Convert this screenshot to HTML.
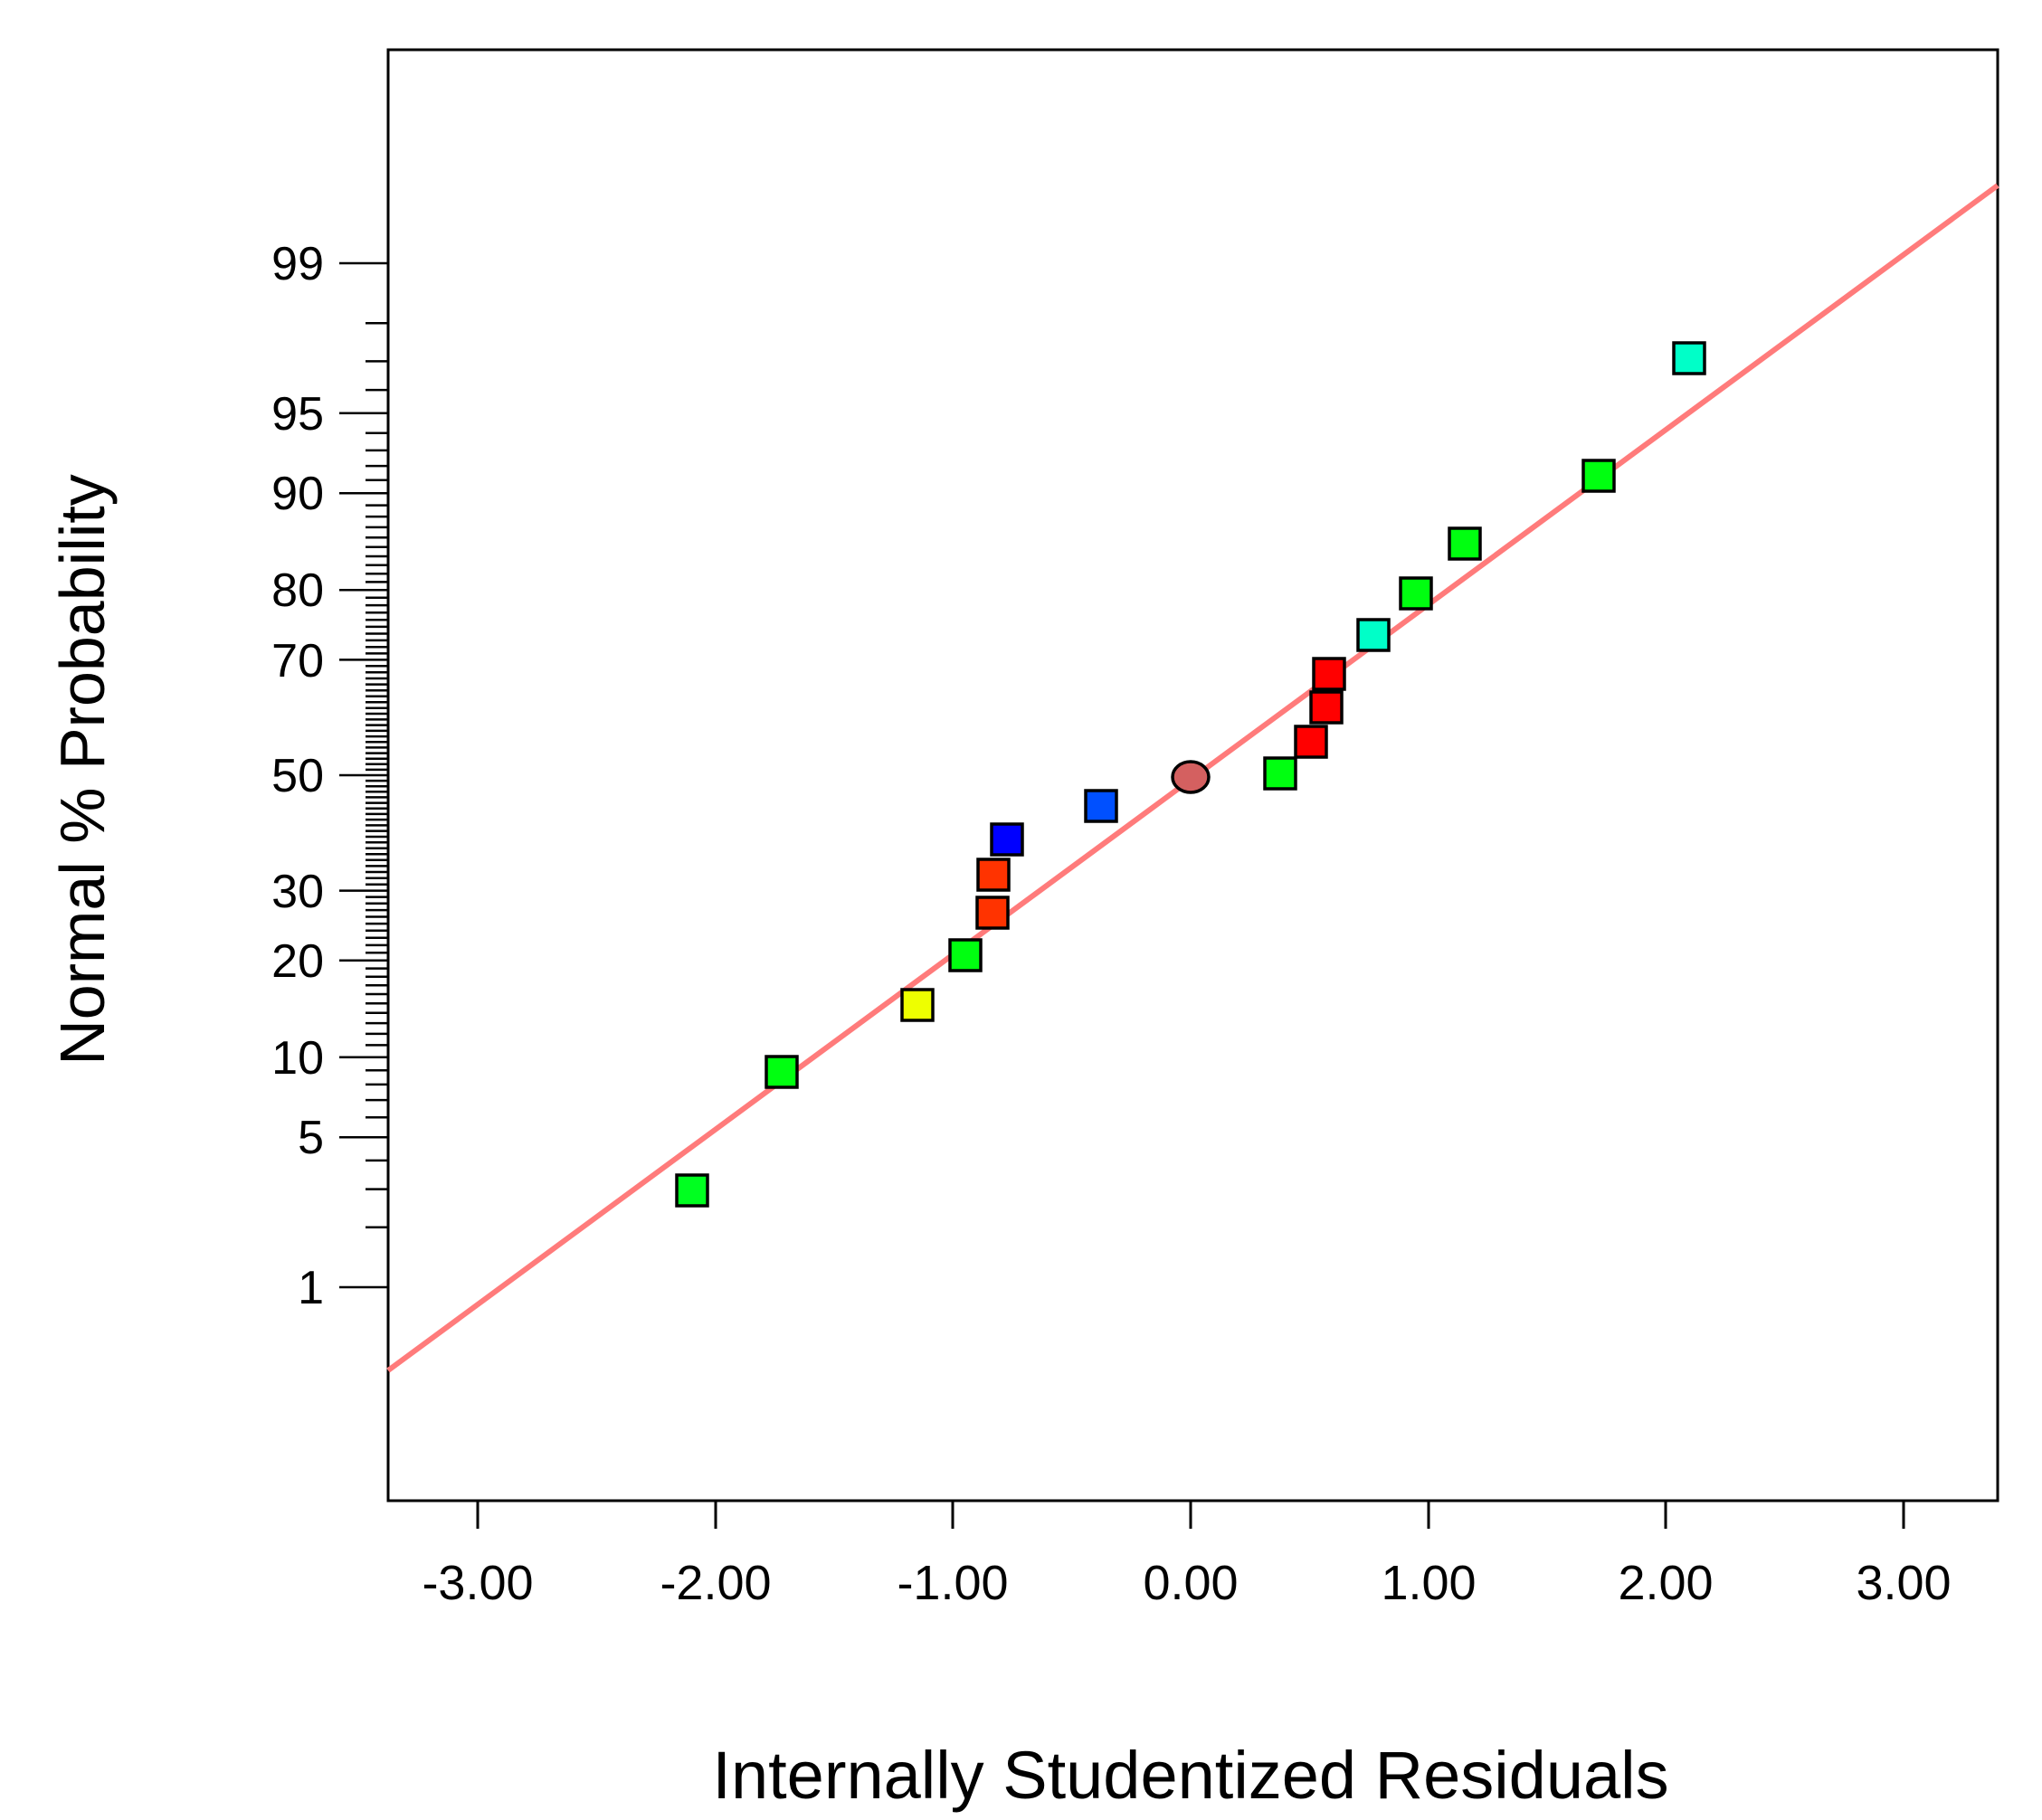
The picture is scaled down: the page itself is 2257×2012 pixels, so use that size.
<!DOCTYPE html>
<html><head><meta charset="utf-8"><style>html,body{margin:0;padding:0;background:#fff}svg{display:block}</style></head>
<body>
<svg width="2257" height="2012" viewBox="0 0 2257 2012" xmlns="http://www.w3.org/2000/svg" font-family="Liberation Sans, Arial, sans-serif">
<rect width="2257" height="2012" fill="#fff"/>
<path stroke="#000" stroke-width="2.5" fill="none" d="
M404 1356.7H429M404 1314.6H429M404 1282.9H429M404 1235.3H429M404 1216.1H429M404 1198.9H429M404 1183.2H429
M404 1155.4H429M404 1142.9H429M404 1131.1H429M404 1119.8H429M404 1109.2H429M404 1099H429M404 1089.2H429M404 1079.7H429M404 1070.6H429
M404 1053.2H429M404 1044.9H429M404 1036.7H429M404 1028.8H429M404 1021.1H429M404 1013.5H429M404 1006.1H429M404 998.8H429M404 991.6H429
M404 977.7H429M404 970.8H429M404 964H429M404 957.4H429M404 950.7H429M404 944.2H429M404 937.8H429M404 931.3H429M404 925H429M404 918.6H429
M404 912.4H429M404 906.1H429M404 899.9H429M404 893.7H429M404 887.6H429M404 881.4H429M404 875.3H429M404 869.2H429M404 863.1H429
M404 357.3H429M404 399.4H429M404 431.1H429M404 478.7H429M404 497.9H429M404 515.1H429M404 530.8H429
M404 558.6H429M404 571.1H429M404 582.9H429M404 594.2H429M404 604.8H429M404 615H429M404 624.8H429M404 634.3H429M404 643.4H429
M404 660.8H429M404 669.1H429M404 677.3H429M404 685.2H429M404 692.9H429M404 700.5H429M404 707.9H429M404 715.2H429M404 722.4H429
M404 736.3H429M404 743.2H429M404 750H429M404 756.6H429M404 763.3H429M404 769.8H429M404 776.2H429M404 782.7H429M404 789H429M404 795.4H429
M404 801.6H429M404 807.9H429M404 814.1H429M404 820.3H429M404 826.4H429M404 832.6H429M404 838.7H429M404 844.8H429M404 850.9H429
M375 1423H429M375 1257.2H429M375 1168.8H429M375 1061.8H429M375 984.6H429M375 857H429M375 729.4H429M375 652.2H429M375 545.2H429M375 456.8H429M375 291H429"/>
<rect x="429" y="55" width="1779" height="1604" fill="none" stroke="#000" stroke-width="3"/>
<g stroke="#000" stroke-width="3">
<line x1="528" y1="1659" x2="528" y2="1690"/>
<line x1="791" y1="1659" x2="791" y2="1690"/>
<line x1="1053" y1="1659" x2="1053" y2="1690"/>
<line x1="1316" y1="1659" x2="1316" y2="1690"/>
<line x1="1579" y1="1659" x2="1579" y2="1690"/>
<line x1="1841" y1="1659" x2="1841" y2="1690"/>
<line x1="2104" y1="1659" x2="2104" y2="1690"/>
</g>
<g font-size="54" text-anchor="middle" fill="#000">
<text x="528" y="1768">-3.00</text>
<text x="791" y="1768">-2.00</text>
<text x="1053" y="1768">-1.00</text>
<text x="1316" y="1768">0.00</text>
<text x="1579" y="1768">1.00</text>
<text x="1841" y="1768">2.00</text>
<text x="2104" y="1768">3.00</text>
</g>
<g font-size="52" text-anchor="end" fill="#000">
<text x="358" y="309">99</text>
<text x="358" y="475">95</text>
<text x="358" y="563">90</text>
<text x="358" y="670">80</text>
<text x="358" y="748">70</text>
<text x="358" y="875">50</text>
<text x="358" y="1003">30</text>
<text x="358" y="1080">20</text>
<text x="358" y="1187">10</text>
<text x="358" y="1275">5</text>
<text x="358" y="1441">1</text>
</g>
<text x="1316" y="1988" font-size="74" text-anchor="middle" fill="#000">Internally Studentized Residuals</text>
<text transform="translate(115,851) rotate(-90)" font-size="70" text-anchor="middle" fill="#000">Normal % Probability</text>
<line x1="429" y1="1515" x2="2208" y2="205" stroke="#ff7b7b" stroke-width="6"/>
<g stroke="#000" stroke-width="3.5">
<rect x="748" y="1299" width="34" height="34" fill="#00ff20"/>
<rect x="847" y="1168" width="34" height="34" fill="#00ff10"/>
<rect x="997" y="1094" width="34" height="34" fill="#eeff00"/>
<rect x="1050" y="1039" width="34" height="34" fill="#00ff10"/>
<rect x="1080" y="992" width="34" height="34" fill="#ff3300"/>
<rect x="1081" y="950" width="34" height="34" fill="#ff3300"/>
<rect x="1096" y="911" width="34" height="34" fill="#0000ff"/>
<rect x="1200" y="874" width="34" height="34" fill="#0050ff"/>
<ellipse cx="1316" cy="859" rx="20" ry="17" fill="#d46060"/>
<rect x="1398" y="838" width="34" height="34" fill="#00ff10"/>
<rect x="1432" y="803" width="34" height="34" fill="#ff0000"/>
<rect x="1449" y="765" width="34" height="34" fill="#ff0000"/>
<rect x="1452" y="728" width="34" height="34" fill="#ff0000"/>
<rect x="1501" y="685" width="34" height="34" fill="#00ffc8"/>
<rect x="1548" y="639" width="34" height="34" fill="#00ff10"/>
<rect x="1602" y="584" width="34" height="34" fill="#00ff10"/>
<rect x="1750" y="509" width="34" height="34" fill="#00ff10"/>
<rect x="1850" y="379" width="34" height="34" fill="#00ffc8"/>
</g>
</svg>
</body></html>
